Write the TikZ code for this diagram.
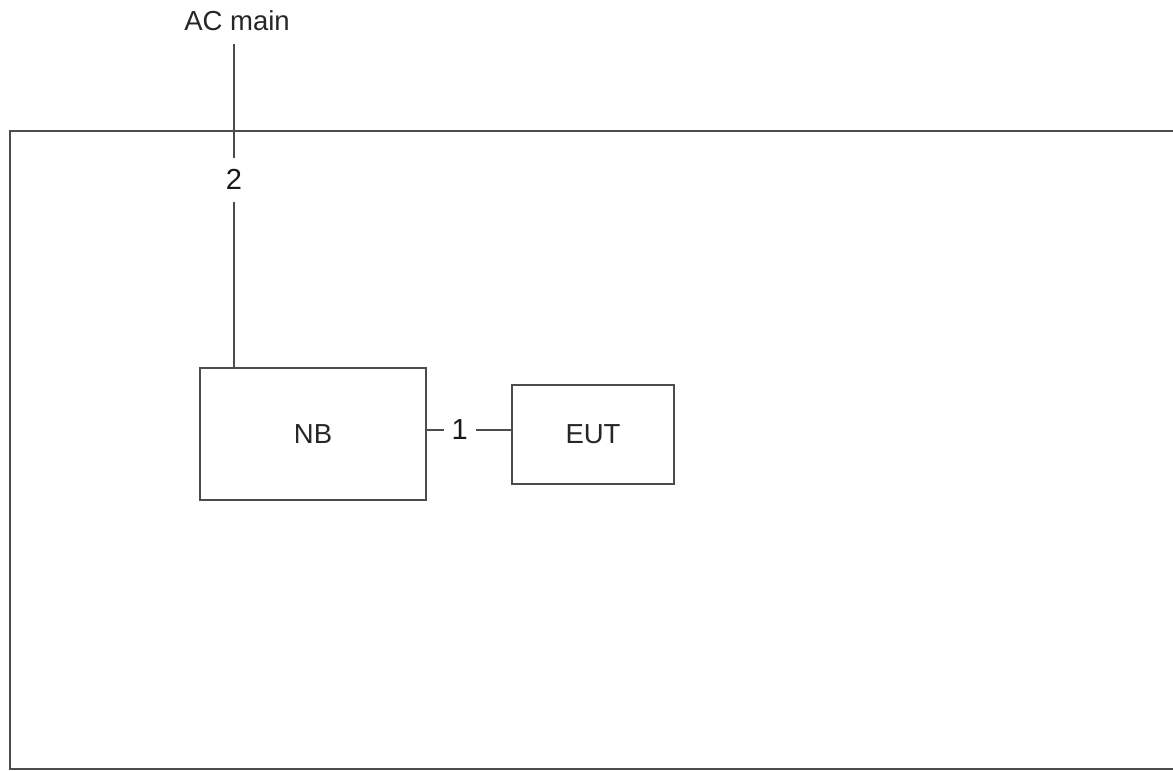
\documentclass[tikz,border=0pt]{standalone}
\usepackage{fontspec}
\setmainfont{Liberation Sans}
\begin{document}
\begin{tikzpicture}[x=1pt,y=-1pt,
  line/.style={draw=black!70, line width=1.1pt},
  txt/.style={font=\fontsize{27.5}{32}\selectfont, text=black!85},
  blk/.style={draw=black!70, line width=1.1pt, minimum width=#1, inner sep=0pt, txt},
  lbl/.style={fill=white, font=\fontsize{29}{32}\selectfont, text=black!90}]
\useasboundingbox (0,0) rectangle (1173,771);
% outer frame (right side runs off the picture)
\draw[line] (1175,131) -- (10,131) -- (10,769) -- (1175,769);
\node[blk=226pt, minimum height=132pt] (nb) at (313,434) {NB};
\node[blk=162pt, minimum height=99pt] (eut) at (593,434.5) {EUT};
\node[txt, inner sep=0pt] (ac) at (237,21) {AC main};
\coordinate (actop) at (234,44);
\draw[line] (actop) -- node[lbl, pos=0.42, inner xsep=4pt, inner ysep=12pt] (n2) {2} (actop |- nb.north);
\draw[line] (nb.east |- 0,430) -- node[lbl, pos=0.39, inner xsep=8pt, inner ysep=2pt] (n1) {1} (eut.west |- 0,430);
\end{tikzpicture}
\end{document}
